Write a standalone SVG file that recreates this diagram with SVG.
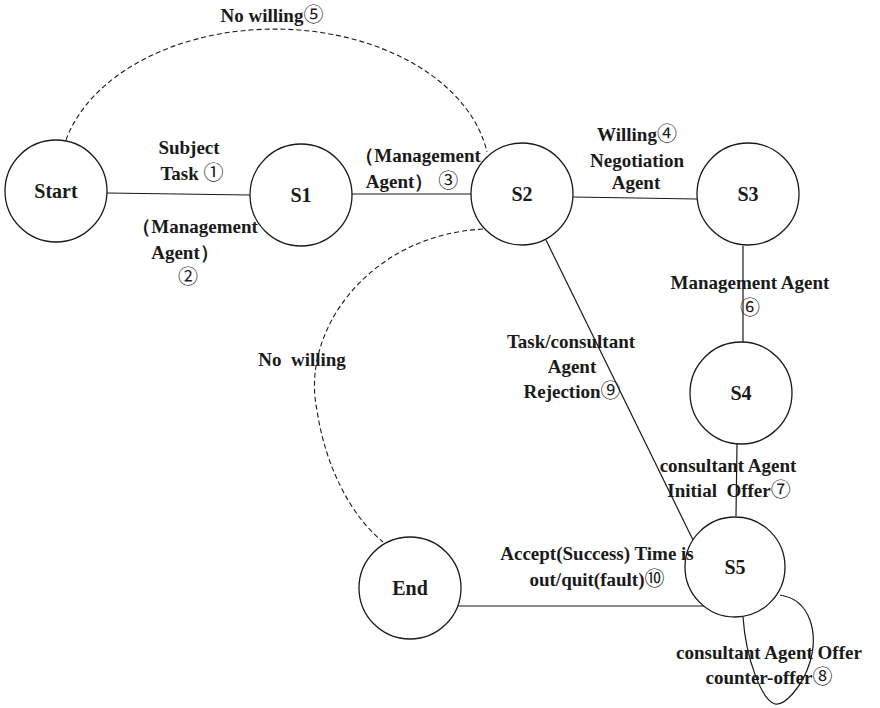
<svg xmlns="http://www.w3.org/2000/svg" width="880" height="708" viewBox="0 0 880 708">
<style>
.node circle{fill:#fff;stroke:#1a1a1a;stroke-width:1.3}
.node text{font-family:"Liberation Serif","Times New Roman",serif;font-weight:bold;font-size:20px;fill:#1a1a1a;text-anchor:middle}
.edge{fill:none;stroke:#1a1a1a;stroke-width:1.2}
.dash{fill:none;stroke:#1a1a1a;stroke-width:1.1;stroke-dasharray:5 3}
.lbl{font-family:"Liberation Serif","Times New Roman",serif;font-weight:bold;font-size:19px;fill:#1a1a1a;text-anchor:middle}
.n{font-family:"Noto Sans CJK SC","DejaVu Sans",sans-serif;font-weight:normal;font-size:20px}
</style>
<rect width="880" height="708" fill="#fff"/>
<g id="connectors">
<line class="edge" x1="107" y1="193" x2="250" y2="195"/>
<line class="edge" x1="352" y1="194" x2="471" y2="194"/>
<line class="edge" x1="573" y1="197" x2="697" y2="199"/>
<line class="edge" x1="743" y1="246" x2="743" y2="342"/>
<line class="edge" x1="546" y1="240" x2="693" y2="540"/>
<line class="edge" x1="737" y1="444" x2="736" y2="516"/>
<line class="edge" x1="458" y1="606" x2="706" y2="606" stroke-width="2.4"/>
<path class="edge" d="M780,595 C812,600 818,635 810,662 C802,688 784,706 775,704 C762,700 746,660 743,617"/>
<path class="dash" d="M66,140 A215,146 0 0 1 487,152"/>
<path class="dash" d="M483,229 C370,235 300,330 317,410 C325,465 350,515 383,542"/>
</g>
<g id="start" class="node"><circle cx="56" cy="191" r="51"/><text x="56" y="198">Start</text></g>
<g id="s1" class="node"><circle cx="301" cy="195" r="51"/><text x="301" y="202">S1</text></g>
<g id="s2" class="node"><circle cx="522" cy="194" r="51"/><text x="522" y="201">S2</text></g>
<g id="s3" class="node"><circle cx="748" cy="194" r="51"/><text x="748" y="201">S3</text></g>
<g id="s4" class="node"><circle cx="741" cy="393" r="51"/><text x="741" y="400">S4</text></g>
<g id="s5" class="node"><circle cx="735" cy="567" r="50"/><text x="735" y="574">S5</text></g>
<g id="end" class="node"><circle cx="410" cy="588" r="51"/><text x="410" y="595">End</text></g>
<g id="labels">
<text class="lbl" x="272" y="22">No willing<tspan class="n">⑤</tspan></text>
<text class="lbl" x="189" y="154">Subject</text>
<text class="lbl" x="192" y="180">Task <tspan class="n">①</tspan></text>
<text class="lbl" x="195" y="233">（Management</text>
<text class="lbl" x="185" y="259">Agent）</text>
<text class="lbl" x="188" y="284"><tspan class="n">②</tspan></text>
<text class="lbl" x="418" y="162">（Management</text>
<text class="lbl" x="412" y="188">Agent） <tspan class="n">③</tspan></text>
<text class="lbl" x="637" y="141">Willing<tspan class="n">④</tspan></text>
<text class="lbl" x="637" y="167">Negotiation</text>
<text class="lbl" x="636" y="189">Agent</text>
<text class="lbl" x="750" y="289">Management Agent</text>
<text class="lbl" x="750" y="315"><tspan class="n">⑥</tspan></text>
<text class="lbl" x="571" y="348">Task/consultant</text>
<text class="lbl" x="572" y="373">Agent</text>
<text class="lbl" x="572" y="398">Rejection<tspan class="n">⑨</tspan></text>
<text class="lbl" x="302" y="366" xml:space="preserve">No  willing</text>
<text class="lbl" x="728" y="472">consultant Agent</text>
<text class="lbl" x="729" y="497" xml:space="preserve">Initial  Offer<tspan class="n">⑦</tspan></text>
<text class="lbl" x="597" y="560">Accept(Success) Time is</text>
<text class="lbl" x="597" y="586">out/quit(fault)<tspan class="n">⑩</tspan></text>
<text class="lbl" x="769" y="659">consultant Agent Offer</text>
<text class="lbl" x="769" y="684">counter-offer<tspan class="n">⑧</tspan></text>
</g>
</svg>
